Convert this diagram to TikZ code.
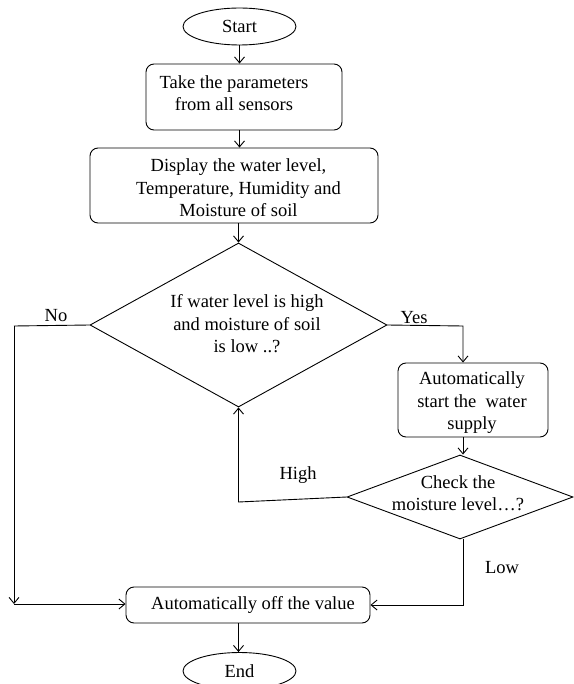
\documentclass[tikz,border=0pt]{standalone}
\usepackage{fontspec}
\setmainfont{Liberation Serif}
\usetikzlibrary{shapes.geometric,arrows.meta,calc}
\begin{document}
\begin{tikzpicture}[x=1pt,y=-1pt,
  txt/.style={font=\fontsize{18.5}{22.5}\selectfont,align=center,inner sep=0pt},
  term/.style={ellipse,draw,line width=0.9pt,minimum width=113pt,minimum height=37pt,inner sep=0pt,font=\fontsize{18.5}{22.5}\selectfont},
  procbox/.style={rectangle,rounded corners=8pt,draw,line width=0.9pt,inner sep=0pt},
  decision/.style={diamond,draw,line width=0.9pt,inner sep=0pt},
  conn/.style={line width=0.9pt,-{Straight Barb[length=6pt,width=10pt]}},
  plainln/.style={line width=0.9pt},
  lbl/.style={font=\fontsize{18.5}{22.5}\selectfont,inner sep=0pt}]
\useasboundingbox (0,0) rectangle (573,684);
% shapes
\node[term] (start) at (239.5,26.5) {Start};
\node[procbox,minimum width=196pt,minimum height=66pt] (p1) at (244,97) {};
\node[txt] (p1t) at (234,93) {Take the parameters\\from all sensors};
\node[procbox,minimum width=288pt,minimum height=75pt] (p2) at (234,185.5) {};
\node[txt] (p2t) at (238.5,188) {Display the water level,\\Temperature, Humidity and\\Moisture of soil};
\node[decision,minimum width=297pt,minimum height=164pt] (d1) at (238.5,325) {};
\node[txt] (d1t) at (247,324) {If water level is high\\and moisture of soil\\is low ..?};
\node[procbox,minimum width=150pt,minimum height=74pt] (p3) at (473,400) {};
\node[txt] (p3t) at (472,403) {Automatically\\start the\ \ water\\supply};
\node[decision,minimum width=226pt,minimum height=84pt] (d2) at (460,497) {};
\node[txt] (d2t) at (458,493) {Check the\\moisture level\dots?};
\node[procbox,minimum width=244pt,minimum height=36pt] (p4) at (248,605) {};
\node[txt] (p4t) at (253,605) {Automatically off the value};
\node[term] (stop) at (239.5,671) {End};
% labels
\node[lbl] (lno) at (56,316) {No};
\node[lbl] (lyes) at (414,318) {Yes};
\node[lbl] (lhigh) at (298,475) {High};
\node[lbl] (llow) at (502,568) {Low};
% helper coordinates
\coordinate (nocorner) at (14,326);
\coordinate (nobottom) at (14,604);
\coordinate (yescorner) at (463,326);
\coordinate (highcorner) at (238.5,502);
\coordinate (lowcorner) at (463,605);
% connectors
\draw[conn] (start.south) -- (start.south |- p1.north);
\draw[conn] (p1.south -| start.south) -- (p2.north -| start.south);
\draw[conn] (p2.south -| d1.north) -- (d1.north);
\draw[plainln] (d1.west) -- (nocorner);
\draw[conn] (nocorner) -- (nobottom);
\draw[conn] (nobottom) -- (nobottom -| p4.west);
\draw[conn] (d1.east) -- (yescorner) -- (yescorner |- p3.north);
\draw[conn] (p3.south -| yescorner) -- (yescorner |- d2.north);
\draw[conn] (d2.west) -- (highcorner) -- (d1.south);
\draw[conn] (d2.south -| yescorner) -- (lowcorner) -- (lowcorner -| p4.east);
\draw[conn] (p4.south -| d1.north) -- (stop.north -| d1.north);
\end{tikzpicture}
\end{document}
